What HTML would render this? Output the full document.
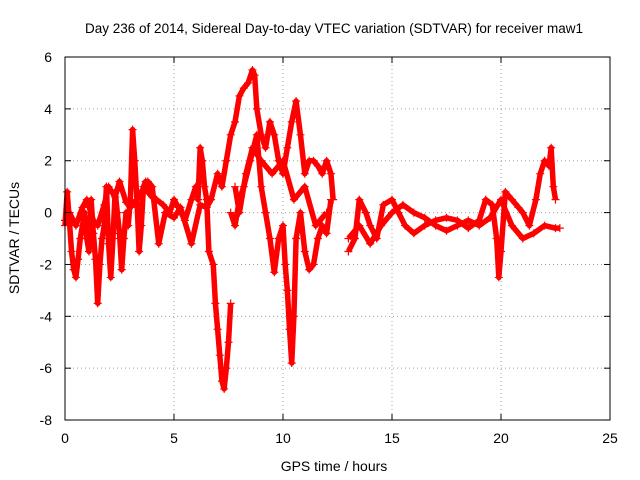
<!DOCTYPE html>
<html><head><meta charset="utf-8"><style>
body{margin:0;background:#fff}
svg{display:block;font-family:"Liberation Sans",sans-serif}
</style></head><body>
<svg id="chart" width="640" height="480">
<rect width="640" height="480" fill="#fff"/>
<text x="334" y="33" font-size="13.5" text-anchor="middle">Day 236 of 2014, Sidereal Day-to-day VTEC variation (SDTVAR) for receiver maw1</text>
<g id="grid"></g>
<g id="marks"></g>
<rect x="65" y="57" width="545" height="363" fill="none" stroke="#000"/>
<g id="ticks"></g>
<text x="334" y="471" font-size="14" text-anchor="middle">GPS time / hours</text>
<text transform="translate(19,238) rotate(-90)" font-size="14" text-anchor="middle">SDTVAR / TECUs</text>
</svg>
<script>
const xTicks=[0,5,10,15,20,25];
const yTicks=[-8,-6,-4,-2,0,2,4,6];
const trackA_t=[0,0.1,0.2,0.3,0.4,0.5,0.6,0.7,0.8,0.9,1.0,1.1,1.2,1.3,1.4,1.5,1.6,1.7,1.8,1.9,2.0,2.1,2.2,2.3,2.4,2.5,2.6,2.7,2.8,2.9,3.0,3.1,3.2,3.3,3.4,3.5,3.6,3.7,3.8,4.0,4.2,4.5,4.8,5.0,5.2,5.5,5.8,6.0,6.1,6.2,6.3,6.4,6.5,6.6,6.8,6.9,7.0,7.1,7.2,7.3,7.4,7.5,7.6];
const trackA_v=[-0.5,0.8,-0.3,-1.5,-2.2,-2.5,-1.8,-1,-0.5,0,-1,-1.5,0.5,-0.8,-1.8,-3.5,-2,-1,-0.5,1,-1.2,-2.5,-1,0.8,0,-0.8,-2.2,-1,0,-0.5,0.5,3.2,2,0.5,-1.5,-0.5,1,1.2,0.8,0.6,0.5,0.3,0,0.5,0.2,-0.3,0.5,1,0.5,2.5,2,1,0.5,-1.5,-2,-3.5,-4.5,-5.5,-6.5,-6.8,-6,-5,-3.5];
const trackB_t=[0,0.2,0.5,0.8,1.0,1.3,1.5,1.8,2.0,2.3,2.5,2.8,3.0,3.3,3.5,3.8,4.0,4.3,4.6,5.0,5.3,5.8,6.2,6.5,6.7,7.0,7.2,7.4,7.6,7.8,8.0,8.2,8.4,8.6,8.7,8.8,9.0,9.2,9.4,9.6,9.8,10.0,10.2,10.4,10.6,10.8,11.0,11.2,11.4,11.6,11.8,12.0,12.2,12.3];
const trackB_v=[-0.3,0,-0.5,0.2,0.5,-0.3,-0.5,0.3,1,0.6,1.2,0.4,0.2,0.5,0.8,1.2,1,-1.2,0,-0.2,0.2,-1.2,0.3,0.2,0.5,1.5,1,2,3,3.5,4.5,4.8,5,5.5,5.3,4,3,2.5,3.5,3,2,1.5,2.5,3.5,4.3,3,1.5,2,2,1.8,1.5,2,1.5,0.5];
const trackC_t=[7.6,7.8,8.0,8.2,8.5,8.8,9.0,9.2,9.4,9.6,9.8,10.0,10.1,10.2,10.3,10.4,10.5,10.6,10.8,11.0,11.2,11.4,11.6,11.8,12.0,12.2];
const trackC_v=[0,-0.5,0.5,1,2,3,1,0,-1,-2.3,-1,-0.5,-2,-3,-4.5,-5.8,-4,-1,0,-1.5,-2.2,-2,-1,-0.5,-0.8,0.5];
const trackD_t=[7.8,8.0,8.3,8.6,9.0,9.5,10.0,10.5,11.0,11.5,12.0];
const trackD_v=[1,0,1.5,2.5,2,1.5,2,0.5,1,-0.5,0];
const trackE_t=[13.0,13.3,13.5,13.8,14.0,14.3,14.6,15.0,15.3,15.6,16,16.5,17,17.5,18,18.5,19,19.3,19.6,19.8,19.9,20.0,20.2,20.5,20.8,21,21.3,21.6,21.8,22.0,22.2,22.3,22.4,22.5];
const trackE_v=[-1.5,-1,0.5,0,-0.5,-1,0.3,0.5,0,-0.5,-0.8,-0.5,-0.3,-0.2,-0.3,-0.6,-0.3,0.5,0.3,-1,-2.5,-1.5,0.8,0.5,0.2,0,-0.5,0.5,1.5,2,1.8,2.5,1,0.5];
const trackF_t=[13.0,13.5,14,14.5,15,15.5,16,16.5,17,17.5,18,18.5,19,19.5,20,20.5,21,21.5,22,22.5,22.7];
const trackF_v=[-1,-0.5,-1.2,-0.5,0,0.3,0,-0.2,-0.5,-0.7,-0.5,-0.3,-0.5,-0.2,0.5,-0.5,-1,-0.8,-0.5,-0.6,-0.6];

const X=t=>65+t*545/25;
const Y=v=>212.6-v*363/14;
const NS='http://www.w3.org/2000/svg';
const grid=document.getElementById('grid'),ticks=document.getElementById('ticks'),marks=document.getElementById('marks');
function mk(tag,at,parent){const e=document.createElementNS(NS,tag);for(const k in at)e.setAttribute(k,at[k]);parent.appendChild(e);return e;}
xTicks.forEach(t=>{
  const l=mk('line',{x1:X(t),x2:X(t),y1:57,y2:420,stroke:'#a0a0a0','stroke-dasharray':'1,3'},grid);
  
  
  const tx=mk('text',{x:X(t),y:443,'font-size':14,'text-anchor':'middle'},ticks);tx.textContent=t;
  
  
  mk('line',{x1:X(t),x2:X(t),y1:420,y2:414,stroke:'#000'},ticks);
  mk('line',{x1:X(t),x2:X(t),y1:57,y2:63,stroke:'#000'},ticks);
});
yTicks.forEach(v=>{
  const l=mk('line',{x1:65,x2:610,y1:Y(v),y2:Y(v),stroke:'#a0a0a0','stroke-dasharray':'1,3'},grid);
  
  
  const tx=mk('text',{x:52,y:Y(v)+5,'font-size':14,'text-anchor':'end'},ticks);tx.textContent=v;
  
  
  mk('line',{x1:65,x2:71,y1:Y(v),y2:Y(v),stroke:'#000'},ticks);
  mk('line',{x1:610,x2:604,y1:Y(v),y2:Y(v),stroke:'#000'},ticks);
});
const tracks=[[trackA_t,trackA_v],[trackB_t,trackB_v],[trackC_t,trackC_v],[trackD_t,trackD_v],[trackE_t,trackE_v],[trackF_t,trackF_v]];
tracks.forEach(([ts,vs])=>{
  const pl=mk('polyline',{points:ts.map((t,i)=>X(t)+','+Y(vs[i])).join(' '),fill:'none',stroke:'#f00','stroke-width':5.5,'stroke-linejoin':'round'},marks);
  
  
  ts.forEach((t,i)=>{
    const x=X(t),y=Y(vs[i]);
    const p=mk('path',{d:`M${x-4},${y}H${x+4}M${x},${y-4}V${y+4}`,stroke:'#f00','stroke-width':1.2},marks);
    
    
  });
});
</script>
</body></html>
